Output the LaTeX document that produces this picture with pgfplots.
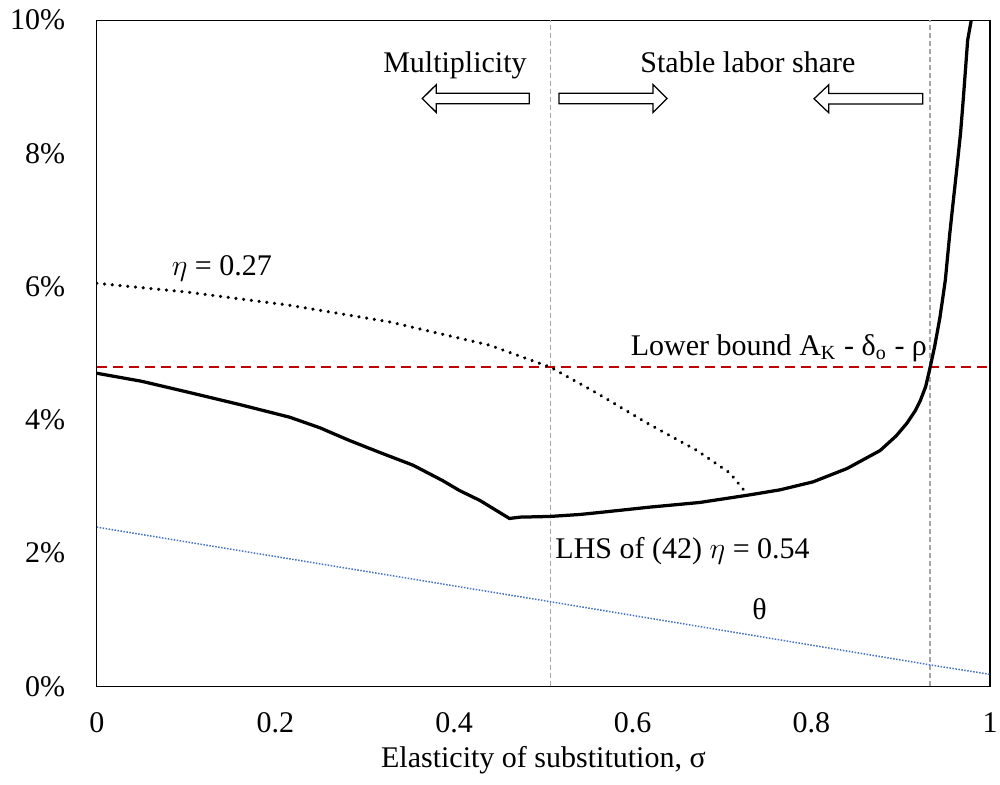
\documentclass[12pt,border=0pt]{standalone}
\usepackage{fontspec}
\setmainfont{Liberation Serif}
\usepackage{pgfplots}
\pgfplotsset{compat=1.18}
\definecolor{bndred}{RGB}{192,0,0}
\definecolor{thblue}{RGB}{68,114,196}
\definecolor{vgray}{RGB}{165,165,165}
\begin{document}
\begin{tikzpicture}
\begin{axis}[scale only axis,width=357.2pt,height=266.4pt,
  xmin=0,xmax=1,ymin=0,ymax=10,
  xtick={0,0.2,0.4,0.6,0.8,1},xticklabels={0,0.2,0.4,0.6,0.8,1},
  ytick={0,2,4,6,8,10},yticklabels={0\%,2\%,4\%,6\%,8\%,10\%},
  major tick length=0pt,axis line style={black,line width=0.5pt},
  /pgf/number format/assume math mode=true,
  tick label style={font=\fontsize{12}{14}\selectfont},
  yticklabel style={xshift=-8.5pt},xticklabel style={inner sep=1pt,yshift=-9.2pt},
  xlabel={Elasticity of substitution, σ},
  xlabel style={font=\fontsize{12}{14}\selectfont,at={(axis description cs:0.5,-0.111)},anchor=center}]
% vertical thresholds
\addplot[vgray,line width=0.6pt,dash pattern=on 2pt off 1.2pt] coordinates {(0.508,0) (0.508,10)};
\addplot[vgray,line width=0.6pt,dash pattern=on 2pt off 1.2pt] coordinates {(0.933,0) (0.933,10)};
% theta
\addplot[thblue,line width=0.6pt,dash pattern=on 0.6pt off 0.6pt] coordinates {(0,2.39) (0.508,1.27) (0.934,0.32) (1,0.18)};
% lower bound
\addplot[bndred,line width=0.9pt,dash pattern=on 4pt off 2.4pt] coordinates {(0,4.79) (1,4.79)};
% eta = 0.27
\addplot[black,line width=1.4pt,line cap=round,dash pattern=on 0.01pt off 3.1pt] coordinates {
(0,6.05) (0.1,5.92) (0.216,5.72) (0.328,5.47) (0.44,5.12) (0.508,4.79) (0.56,4.40) (0.615,3.96) (0.672,3.54) (0.709,3.20) (0.729,2.87)};
% LHS of (42), eta = 0.54
\addplot[black,line width=1.3pt] coordinates {
(0,4.70) (0.05,4.58) (0.104,4.41) (0.16,4.23) (0.216,4.04) (0.25,3.88) (0.283,3.69) (0.317,3.51) (0.354,3.32) (0.387,3.09) (0.406,2.94) (0.429,2.79) (0.462,2.52) (0.474,2.54) (0.507,2.55) (0.541,2.58) (0.563,2.61) (0.619,2.69) (0.675,2.76) (0.729,2.87) (0.765,2.95) (0.802,3.07) (0.840,3.27) (0.877,3.54) (0.895,3.76) (0.907,3.95) (0.916,4.13) (0.922,4.29) (0.928,4.50) (0.933,4.79) (0.938,5.10) (0.944,5.54) (0.950,6.10) (0.955,6.80) (0.959,7.30) (0.963,7.79) (0.967,8.30) (0.970,8.80) (0.975,9.70) (0.979,10.0)};
% arrows
\draw[black,line width=0.5pt,fill=white] (axis cs:0.3645,8.824) -- (axis cs:0.3802,9.034) -- (axis cs:0.3802,8.904) -- (axis cs:0.4841,8.904) -- (axis cs:0.4841,8.744) -- (axis cs:0.3802,8.744) -- (axis cs:0.3802,8.614) -- cycle;
\draw[black,line width=0.5pt,fill=white] (axis cs:0.6383,8.824) -- (axis cs:0.6226,9.034) -- (axis cs:0.6226,8.904) -- (axis cs:0.5174,8.904) -- (axis cs:0.5174,8.744) -- (axis cs:0.6226,8.744) -- (axis cs:0.6226,8.614) -- cycle;
\draw[black,line width=0.5pt,fill=white] (axis cs:0.803,8.82) -- (axis cs:0.8195,9.03) -- (axis cs:0.8195,8.90) -- (axis cs:0.9246,8.90) -- (axis cs:0.9246,8.74) -- (axis cs:0.8195,8.74) -- (axis cs:0.8195,8.61) -- cycle;
% labels
\node[font=\fontsize{12}{14}\selectfont,anchor=base] at (axis cs:0.401,9.22) {Multiplicity};
\node[font=\fontsize{12}{14}\selectfont,anchor=base] at (axis cs:0.729,9.22) {Stable labor share};
\node[font=\fontsize{12}{14}\selectfont,anchor=center] at (axis cs:0.14,6.28) {$\eta$ = 0.27};
\node[font=\fontsize{12}{14}\selectfont,anchor=base east,inner sep=0pt] at (axis cs:0.930,4.97) {Lower bound A\textsubscript{K} - δ\textsubscript{o} - ρ};
\node[font=\fontsize{12}{14}\selectfont,anchor=base west,inner sep=0pt] at (axis cs:0.513,1.92) {LHS of (42) $\eta$ = 0.54};
\node[font=\fontsize{12}{14}\selectfont,anchor=center] at (axis cs:0.742,1.16) {θ};
\end{axis}
\end{tikzpicture}
\end{document}
